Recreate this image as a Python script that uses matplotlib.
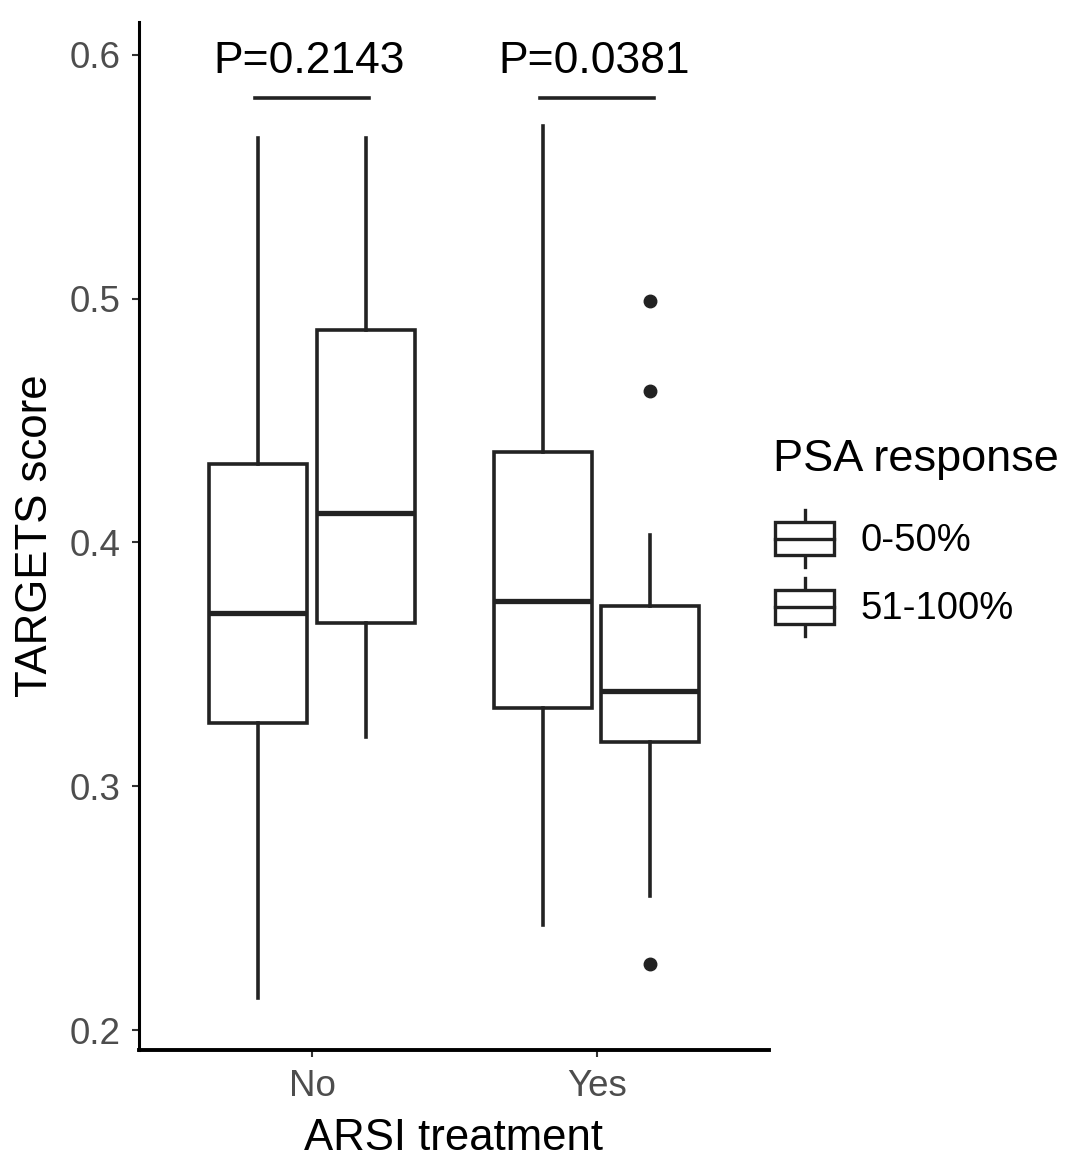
import matplotlib
matplotlib.use('Agg')
import matplotlib.pyplot as plt
from matplotlib.legend_handler import HandlerBase
from matplotlib.patches import Rectangle
from matplotlib.lines import Line2D

plt.rcParams['font.family'] = ['Liberation Sans', 'DejaVu Sans']

# Box statistics
treatments = ['No', 'Yes']
responses = ['0-50%', '51-100%']
whislo = [[0.213, 0.320], [0.243, 0.255]]
q1 = [[0.326, 0.367], [0.332, 0.318]]
med = [[0.371, 0.412], [0.376, 0.339]]
q3 = [[0.432, 0.487], [0.437, 0.374]]
whishi = [[0.566, 0.566], [0.571, 0.403]]
fliers = [[[], []], [[], [0.499, 0.462, 0.227]]]
p_values = ['P=0.2143', 'P=0.0381']

line_col = '#222222'
dodge = 0.188
box_w = 0.344

fig = plt.figure(figsize=(10.71, 11.61), dpi=100)
ax = fig.add_axes([139 / 1071, 1 - 1050 / 1161, 630 / 1071, 1028 / 1161])

for i in range(len(treatments)):
    for j in range(len(responses)):
        stats = [dict(whislo=whislo[i][j], q1=q1[i][j], med=med[i][j], q3=q3[i][j],
                      whishi=whishi[i][j], fliers=fliers[i][j])]
        pos = i + (j - 0.5) * 2 * dodge
        ax.bxp(stats, positions=[pos], widths=box_w, showcaps=False, patch_artist=True,
               boxprops=dict(facecolor='white', edgecolor=line_col, linewidth=2.6),
               whiskerprops=dict(color=line_col, linewidth=2.6),
               medianprops=dict(color=line_col, linewidth=3.8, solid_capstyle='butt'),
               flierprops=dict(marker='o', markerfacecolor=line_col, markeredgecolor=line_col,
                               markersize=9))

# significance annotations
for i, p in enumerate(p_values):
    ax.plot([i - 0.2, i + 0.2], [0.5824, 0.5824], color=line_col, linewidth=2.6)
    ax.text(i - 0.01, 0.5925, p, ha='center', va='baseline', fontsize=32, color='black')

ax.set_xlim(-0.607, 1.604)
ax.set_ylim(0.1918, 0.6135)
ax.set_xticks([0, 1])
ax.set_xticklabels(treatments)
ax.set_yticks([0.2, 0.3, 0.4, 0.5, 0.6])
ax.set_yticklabels(['0.2', '0.3', '0.4', '0.5', '0.6'])
ax.tick_params(labelsize=26.5, labelcolor='#4d4d4d', color='#333333', length=5, width=1.5)
ax.tick_params(axis='x', pad=9)
ax.tick_params(axis='y', pad=8)
ax.spines['top'].set_visible(False)
ax.spines['right'].set_visible(False)
ax.spines['left'].set_linewidth(2.2)
ax.spines['bottom'].set_linewidth(2.8)
ax.set_xlabel('ARSI treatment', fontsize=31.5, labelpad=10)
ax.set_ylabel('TARGETS score', fontsize=31.5, labelpad=10)


class BoxKeyHandler(HandlerBase):
    def create_artists(self, legend, orig_handle, xdescent, ydescent, width, height, fontsize, trans):
        x0, y0 = -xdescent, -ydescent
        lw = 2.4
        arts = [
            Line2D([x0 + width / 2] * 2, [y0, y0 + height], color=line_col, lw=lw, transform=trans),
            Rectangle((x0, y0 + height * 0.21), width, height * 0.58, facecolor='white',
                      edgecolor=line_col, lw=lw, transform=trans),
            Line2D([x0, x0 + width], [y0 + height / 2] * 2, color=line_col, lw=lw, transform=trans),
        ]
        return arts


fig.text(773 / 1071, 1 - 471 / 1161, 'PSA response', fontsize=32.5, ha='left', va='baseline')
handles = [Rectangle((0, 0), 1, 1) for _ in responses]
fig.legend(handles, responses, loc='upper left',
           bbox_to_anchor=(775 / 1071, 1 - 510 / 1161), frameon=False, fontsize=27.5,
           handlelength=1.55, handleheight=1.92,
           handletextpad=0.68, labelspacing=0.3, borderpad=0, borderaxespad=0,
           handler_map={Rectangle: BoxKeyHandler()})

fig.savefig('out.png', dpi=100)
